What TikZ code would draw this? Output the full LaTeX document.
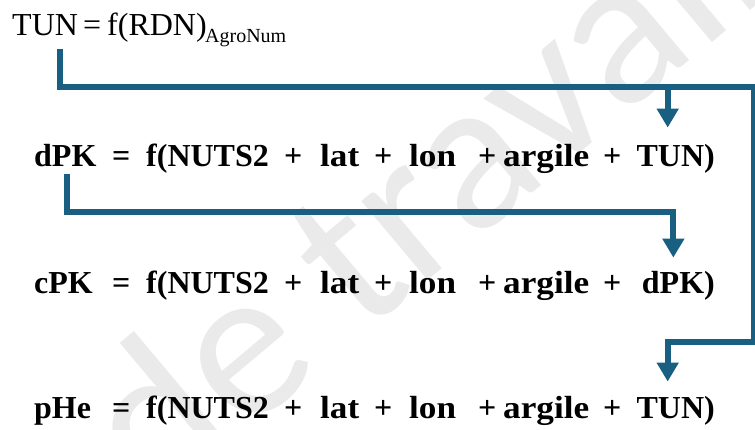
\documentclass[tikz,border=0pt]{standalone}
\usepackage{fontspec}
\setmainfont{Liberation Serif}
\newfontfamily\wideserif{Liberation Serif}[FakeStretch=1.1]
\newfontfamily\wmfont{Carlito}
\usetikzlibrary{arrows.meta}

\definecolor{flowblue}{RGB}{24,95,130}
\definecolor{wmgray}{RGB}{234,234,234}

\tikzset{
  eq/.style={inner sep=0pt, anchor=base west, font=\fontsize{32}{38}\selectfont\bfseries},
  eqwide/.style={eq, font=\wideserif\fontsize{32}{38}\selectfont\bfseries},
  eqend/.style={eq, anchor=base east},
  plain/.style={inner sep=0pt, anchor=base west, font=\fontsize{32}{38}\selectfont},
  subscr/.style={inner sep=0pt, anchor=base west, font=\fontsize{20}{24}\selectfont},
  flow/.style={draw=flowblue, line width=6pt, -{Triangle[width=21pt,length=19pt]}},
  watermark/.style={text=wmgray, font=\wmfont\fontsize{216}{240}\selectfont,
    rotate=40, inner sep=0pt}
}

% one regression line: baseline y, node name, response, last covariate
\newcommand\eqrow[4]{%
  \node[eq] (#2) at (34,#1) {#3};
  \node[eq] at (112,#1) {=};
  \node[eq] at (146,#1) {f(NUTS2};
  \node[eq] at (284,#1) {+};
  \node[eqwide] at (320,#1) {lat};
  \node[eq] at (374,#1) {+};
  \node[eqwide] at (409,#1) {lon};
  \node[eq] at (478,#1) {+};
  \node[eqwide] at (503,#1) {argile};
  \node[eq] at (603,#1) {+};
  \node[eqend] (#2end) at (715,#1) {#4};
}

\begin{document}
\begin{tikzpicture}[x=1pt,y=-1pt]
\useasboundingbox (0,0) rectangle (755,429);

% background watermark
\begin{scope}
  \clip (0,0) rectangle (755,429);
  \node[watermark] at (418,192) {de travail};
\end{scope}

% first model
\node[plain] (tun) at (12,35) {TUN};
\node[plain] (tuneq) at (83,35) {=};
\node[plain] (tunrhs) at (107,35) {f(RDN)};
\node[subscr] (tunsub) at (205,42) {AgroNum};

% dependent models
\eqrow{166}{dpk}{dPK}{TUN)}
\eqrow{293}{cpk}{cPK}{dPK)}
\eqrow{418}{phe}{pHe}{TUN)}

% routing levels
\coordinate (bus1) at (0,87);
\coordinate (bus2) at (0,212);
\coordinate (bus3) at (0,342);
\coordinate (rail) at (754,0);

\coordinate (tunfoot) at ([xshift=15pt,yshift=-13pt]tun.south);
\coordinate (dpkfoot) at ([xshift=2pt,yshift=-7pt]dpk.south);
\coordinate (tipA) at ([xshift=-8pt,yshift=16pt]dpkend.north);
\coordinate (tipB) at ([xshift=-5pt,yshift=13pt]cpkend.north);
\coordinate (tipC) at ([xshift=-8pt,yshift=14pt]pheend.north);

\draw[flow] (tunfoot) |- (bus1 -| tipA) -- (tipA);
\draw[flow] (tunfoot) |- (bus1 -| rail) |- (bus3 -| tipC) -- (tipC);
\draw[flow] (dpkfoot) |- (bus2 -| tipB) -- (tipB);
\end{tikzpicture}
\end{document}
